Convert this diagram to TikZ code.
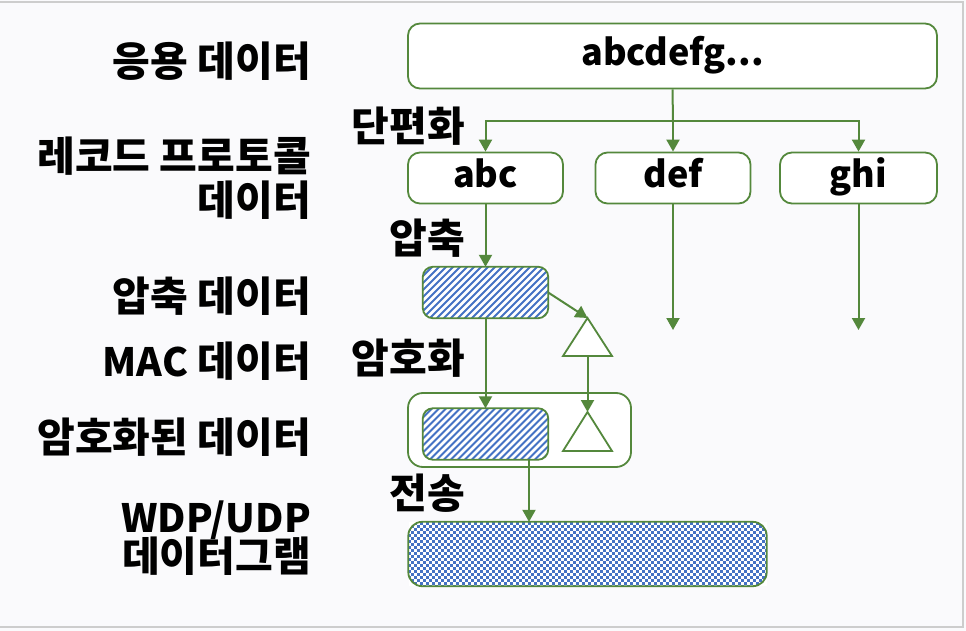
\documentclass[tikz,border=0pt]{standalone}
\usepackage{fontspec}
\setmainfont{Noto Sans CJK KR}
\usepackage{xcolor}
\usetikzlibrary{arrows.meta,positioning}

\definecolor{linegreen}{RGB}{84,136,60}
\definecolor{hatchblue}{RGB}{68,114,196}
\definecolor{paper}{RGB}{250,250,252}
\definecolor{framegray}{RGB}{205,205,205}

\newcommand{\latin}[1]{{\fontsize{39}{42}\selectfont #1}}

% diagonal stripes inside a node
\newcommand{\stripes}[1]{%
  \begin{scope}
    \clip[rounded corners=10pt] (#1.north west) rectangle (#1.south east);
    \foreach \k in {-70,-63,...,133}
      \draw[hatchblue, line width=2pt] ([xshift=\k pt]#1.south west) -- ++(72,-72);
  \end{scope}
  \draw[linegreen, line width=1.8pt, rounded corners=10pt] (#1.north west) rectangle (#1.south east);}

% checkerboard inside a node
\newcommand{\checker}[1]{%
  \begin{scope}
    \clip[rounded corners=14pt] (#1.north west) rectangle (#1.south east);
    \foreach \j [evaluate=\j as \off using {3*mod(\j,2)}] in {0,...,21}
      \foreach \i in {0,...,60}
        \fill[hatchblue] ([shift={(6*\i+\off,3*\j)}]#1.north west) rectangle ++(3,3);
  \end{scope}
  \draw[linegreen, line width=1.8pt, rounded corners=14pt] (#1.north west) rectangle (#1.south east);}

\tikzset{
  label/.style={font=\fontsize{41}{44}\selectfont\bfseries, inner sep=0pt, anchor=base east},
  databox/.style={draw=linegreen, line width=1.8pt, rounded corners=12pt, fill=white,
    inner sep=0pt, font=\fontsize{36}{40}\selectfont\bfseries, text height=26pt, text depth=7pt},
  hatchbox/.style={fill=white, minimum width=125pt, minimum height=51pt},
  flow/.style={draw=linegreen, line width=2pt},
  arrow/.style={flow, -{Triangle[width=13pt,length=12pt]}},
  mactri/.style={draw=linegreen, line width=1.8pt, fill=white, line join=miter}
}

\begin{document}
\begin{tikzpicture}[x=1pt, y=-1pt]
\useasboundingbox (0,0) rectangle (966,631);
\fill[paper] (0,0) rectangle (966,631);
\draw[framegray, line width=1.5pt] (-3,2) rectangle (963,627);

% Layer names
\node[label] (lapp)  at (311,77)  {응용 데이터};
\node[label] (lrec)  at (311,172) {레코드 프로토콜};
\node[label] (lrec2) at (311,215) {데이터};
\node[label] (lcomp) at (311,311) {압축 데이터};
\node[label] (lmac)  at (311,376) {\latin{MAC} 데이터};
\node[label] (lenc)  at (311,452) {암호화된 데이터};
\node[label] (lwdp)  at (311,532) {\latin{WDP/UDP}};
\node[label] (lwdp2) at (311,571) {데이터그램};

% Steps
\node[label] (sfrag) at (465,142) {단편화};
\node[label] (scomp) at (465,253) {압축};
\node[label] (senc)  at (465,373) {암호화};
\node[label] (ssend) at (465,508) {전송};

% Application data and fragments
\node[databox, minimum width=529pt, minimum height=65pt] (app) at (672.5,56) {abcdefg...};
\node[databox, minimum width=155pt, minimum height=51pt] (abc) at (485.5,178) {abc};
\node[databox, minimum width=155pt, minimum height=51pt] (def) at (673,178) {def};
\node[databox, minimum width=157pt, minimum height=51pt] (ghi) at (858.5,178) {ghi};

\coordinate (split) at (673,121);
\draw[flow] (app.south) -- (split);
\draw[arrow] (split) -| (abc.north);
\draw[arrow] (split) -- (def.north);
\draw[arrow] (split) -| (ghi.north);

\coordinate (defend) at (673,330);
\coordinate (ghiend) at (858.5,330);
\draw[arrow] (def.south) -- (defend);
\draw[arrow] (ghi.south) -- (ghiend);

% Compression, MAC and encryption
\node[draw=linegreen, line width=1.8pt, rounded corners=15pt, fill=white,
  minimum width=223pt, minimum height=74pt] (record) at (519.5,430) {};
\node[hatchbox] (comp) at (485.5,292.5) {};
\node[hatchbox] (enc) at (485.5,434) {};
\stripes{comp}
\stripes{enc}

\draw[mactri] (587.5,318) coordinate (mac1) -- (612,356) -- (563,356) -- cycle;
\coordinate (mac1base) at (587.5,356);
\draw[mactri] (587.5,412) coordinate (mac2) -- (612,451) -- (563,451) -- cycle;

\draw[arrow] (abc.south) -- (comp.north);
\draw[arrow] (comp.south) -- (enc.north);
\draw[arrow] (comp.east) -- (mac1);
\draw[arrow] (mac1base) -- (mac2);

% Transport
\node[fill=white, minimum width=358pt, minimum height=64pt] (wdp) at (587.5,554) {};
\checker{wdp}
\draw[arrow] ([xshift=43.5pt]enc.south) -- ([xshift=43.5pt]enc.south |- wdp.north);
\end{tikzpicture}
\end{document}
